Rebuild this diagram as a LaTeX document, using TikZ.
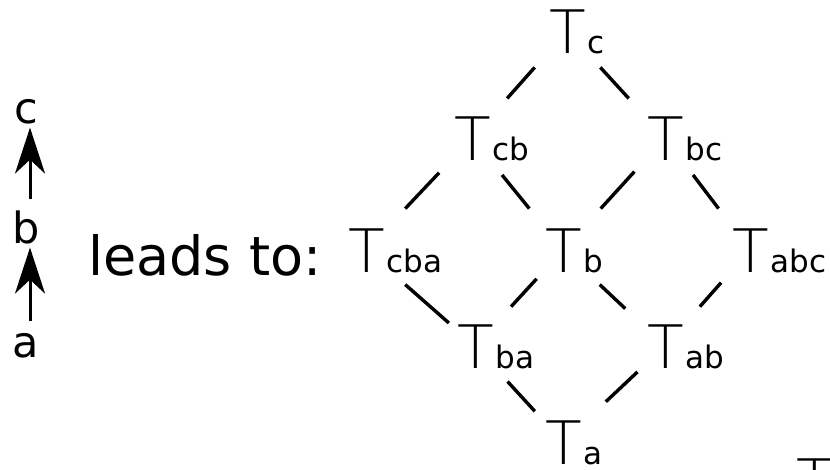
\documentclass[tikz,border=0pt]{standalone}
\usepackage{fontspec}
\setmainfont{DejaVu Sans}
\newfontfamily\thinT{DejaVu Sans ExtraLight}
\usetikzlibrary{calc,arrows.meta}
\newcommand\TTlab[1]{{\fontsize{60}{60}\thinT T}\hspace{2pt}{\fontsize{31}{31}\selectfont #1}}
\begin{document}
\begin{tikzpicture}[x=1pt,y=-1pt,
  tnode/.style={anchor=base west,inner sep=0pt,outer sep=0pt},
  edge/.style={line width=3.4pt,black},
  lbl/.style={anchor=base,inner sep=0pt,outer sep=0pt,font=\fontsize{43}{43}\selectfont},
  arr/.style={line width=3pt,-{Stealth[length=46pt,width=30pt,inset=14pt]}}]
\useasboundingbox (0,0) rectangle (830,469);
\clip (0,0) rectangle (830,469);
% left chain
\node[lbl] (lc) at (26,123) {c};
\node[lbl] (lb) at (26,243) {b};
\node[lbl] (la) at (26,357) {a};
\draw[arr] ([xshift=4pt,yshift=11pt]lb.north) -- ([xshift=4pt,yshift=-4pt]lc.south);
\draw[arr] ([xshift=4pt,yshift=12pt]la.north) -- ([xshift=4pt,yshift=-4pt]lb.south);
\node[anchor=base west,inner sep=0pt,font=\fontsize{54}{54}\selectfont] (lt) at (88,275) {leads to:};
% lattice
\node[tnode] (nc) at (549,53) {\TTlab{c}};
\node[tnode] (ncb) at (454,160) {\TTlab{cb}};
\node[tnode] (nbc) at (647,160) {\TTlab{bc}};
\node[tnode] (ncba) at (348,272) {\TTlab{cba}};
\node[tnode] (nb) at (545,272) {\TTlab{b}};
\node[tnode] (nabc) at (732,272) {\TTlab{abc}};
\node[tnode] (nba) at (457,368) {\TTlab{ba}};
\node[tnode] (nab) at (647,368) {\TTlab{ab}};
\node[tnode] (na) at (545,464) {\TTlab{a}};
\node[tnode] (nx) at (796,502) {{\fontsize{60}{60}\thinT T}};
\foreach \n/\m in {nc/c,ncb/cb,nbc/bc,ncba/cba,nb/b,nabc/abc,nba/ba,nab/ab,na/a}
  \coordinate (\m) at ([xshift=18pt,yshift=22pt]\n.base west);
\draw[edge] ($(c)!0.34!(cb)$) -- ($(c)!0.63!(cb)$);
\draw[edge] ($(c)!0.34!(bc)$) -- ($(c)!0.63!(bc)$);
\draw[edge] ($(cb)!0.31!(cba)$) -- ($(cb)!0.63!(cba)$);
\draw[edge] ($(cb)!0.33!(b)$) -- ($(cb)!0.63!(b)$);
\draw[edge] ($(bc)!0.30!(b)$) -- ($(bc)!0.63!(b)$);
\draw[edge] ($(bc)!0.33!(abc)$) -- ($(bc)!0.63!(abc)$);
\draw[edge] ($(cba)!0.36!(ba)$) -- ($(cba)!0.76!(ba)$);
\draw[edge] ($(b)!0.30!(ba)$) -- ($(b)!0.59!(ba)$);
\draw[edge] ($(b)!0.36!(ab)$) -- ($(b)!0.61!(ab)$);
\draw[edge] ($(abc)!0.34!(ab)$) -- ($(abc)!0.59!(ab)$);
\draw[edge] ($(ba)!0.37!(a)$) -- ($(ba)!0.68!(a)$);
\draw[edge] ($(ab)!0.27!(a)$) -- ($(ab)!0.58!(a)$);
\end{tikzpicture}
\end{document}
